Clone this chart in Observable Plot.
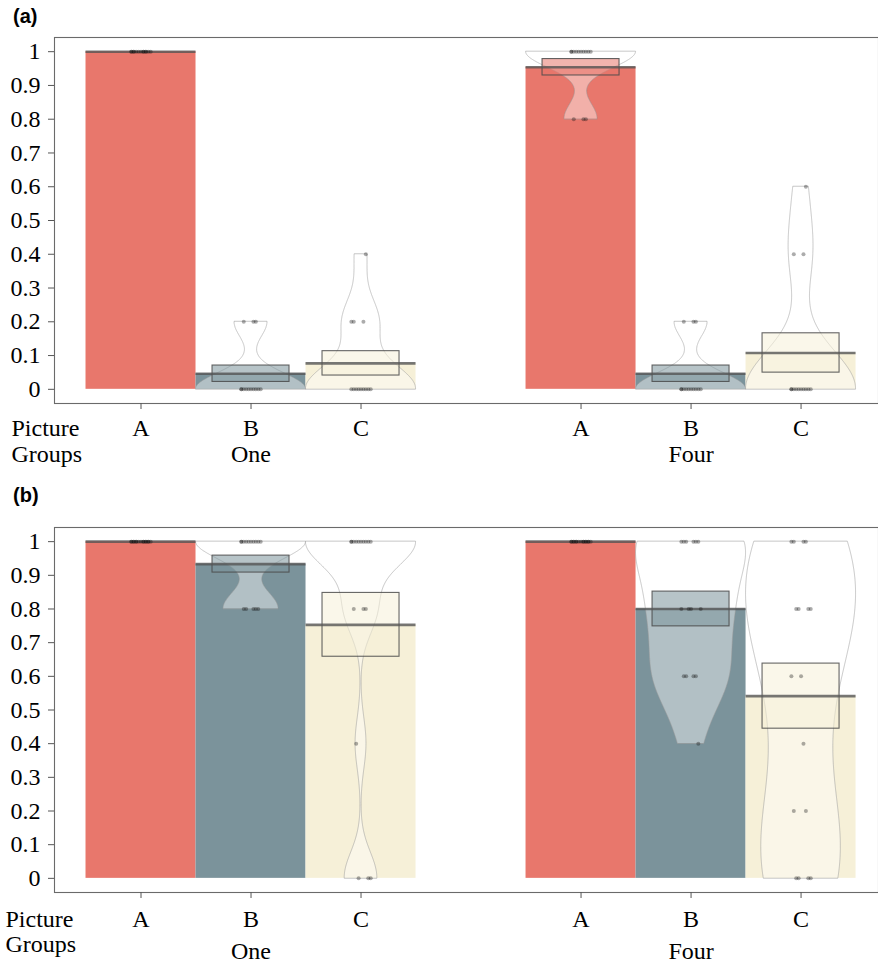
<!DOCTYPE html>
<html>
<head>
<meta charset="utf-8">
<script src="https://cdn.jsdelivr.net/npm/d3@7"></script>
<script src="https://cdn.jsdelivr.net/npm/@observablehq/plot@0.6"></script>
<style>
  html, body { margin: 0; padding: 0; background: #ffffff; }
  #root { width: 878px; }
  .panel { position: relative; width: 878px; }
  .panel svg { display: block; }
  .panel svg, .panel svg text { font-family: "Liberation Serif", "Times New Roman", Times, serif !important; }
  .tag { position: absolute; left: 13px; font: bold 20px "Liberation Sans", Arial, sans-serif; line-height: 20px; color: #000; }
</style>
</head>
<body>
<div id="root"></div>
<script>
// ---------- data ----------
const groups = ["One", "Four"];
const pictures = ["A", "B", "C"];
const pictureColors = ["#e8776c", "#7b939b", "#f6f0d8"];
const yTicks = [0, 0.1, 0.2, 0.3, 0.4, 0.5, 0.6, 0.7, 0.8, 0.9, 1];
const yTickLabels = ["0", "0.1", "0.2", "0.3", "0.4", "0.5", "0.6", "0.7", "0.8", "0.9", "1"];
const axisLeftLabels = ["Picture", "Groups"];

// panel (a): individual scores per picture group / picture
const a_One_A  = [1, 1, 1, 1, 1, 1, 1, 1, 1, 1, 1, 1, 1];
const a_One_B  = [0, 0, 0, 0, 0, 0, 0, 0, 0, 0, 0.2, 0.2, 0.2];
const a_One_C  = [0, 0, 0, 0, 0, 0, 0, 0, 0, 0.2, 0.2, 0.2, 0.4];
const a_Four_A = [1, 1, 1, 1, 1, 1, 1, 1, 1, 1, 0.8, 0.8, 0.8];
const a_Four_B = [0, 0, 0, 0, 0, 0, 0, 0, 0, 0, 0.2, 0.2, 0.2];
const a_Four_C = [0, 0, 0, 0, 0, 0, 0, 0, 0, 0, 0.4, 0.4, 0.6];

// panel (b)
const b_One_A  = [1, 1, 1, 1, 1, 1, 1, 1, 1, 1, 1, 1, 1, 1, 1];
const b_One_B  = [1, 1, 1, 1, 1, 1, 1, 1, 1, 1, 0.8, 0.8, 0.8, 0.8, 0.8];
const b_One_C  = [1, 1, 1, 1, 1, 1, 1, 1, 1, 1, 0.8, 0.8, 0.8, 0.4, 0, 0, 0];
const b_Four_A = [1, 1, 1, 1, 1, 1, 1, 1, 1, 1, 1, 1, 1, 1, 1];
const b_Four_B = [1, 1, 1, 1, 1, 1, 0.8, 0.8, 0.8, 0.8, 0.6, 0.6, 0.6, 0.6, 0.4];
const b_Four_C = [1, 1, 1, 1, 0.8, 0.8, 0.8, 0.8, 0.6, 0.6, 0.4, 0.2, 0.2, 0, 0, 0, 0];

const panels = [
  { tag: "(a)", scores: [[a_One_A, a_One_B, a_One_C], [a_Four_A, a_Four_B, a_Four_C]] },
  { tag: "(b)", scores: [[b_One_A, b_One_B, b_One_C], [b_Four_A, b_Four_B, b_Four_C]] }
];

// ---------- helpers ----------
const slot = (gi, pi) => gi * 4 + pi + 1;

function violinProfile(values) {
  const n = values.length;
  const sd = d3.deviation(values);
  if (!sd) return [];
  const iqr = d3.quantile(values, 0.75) - d3.quantile(values, 0.25);
  let lo = Math.min(sd, iqr / 1.34);
  if (!lo) lo = sd;
  const bw = 0.9 * lo * Math.pow(n, -0.2);
  const [mn, mx] = d3.extent(values);
  const ys = d3.range(512).map(i => mn + (mx - mn) * i / 511);
  const dens = ys.map(y => d3.sum(values, v => Math.exp(-0.5 * ((y - v) / bw) ** 2)));
  const m = d3.max(dens);
  return ys.map((y, i) => ({ y, hw: 0.5 * dens[i] / m }));
}

function buildPanel(scores) {
  const cells = [], violins = [], dots = [];
  groups.forEach((g, gi) => pictures.forEach((p, pi) => {
    const values = scores[gi][pi];
    const pos = slot(gi, pi);
    const mean = d3.mean(values);
    const se = d3.deviation(values) / Math.sqrt(values.length);
    const key = g + p;
    cells.push({ key, pos, mean, lo: mean - se, hi: mean + se, color: pictureColors[pi] });
    violinProfile(values).forEach(d => violins.push({ key, y: d.y, x1: pos - d.hw, x2: pos + d.hw }));
    values.forEach((v, i) => dots.push({ x: pos + (((i * 5) % 9) - 4) * 0.022, y: v }));
  }));
  return { cells, violins, dots };
}

const serif = '"Liberation Serif", "Times New Roman", Times, serif';
const root = document.getElementById("root");

const layouts = [
  { height: 480, marginTop: 37, marginBottom: 77, tagTop: 6, letterPad: 9, groupPad: 41, leftDx: -43, pictureDy: 15, groupsDy: 41 },
  { height: 485, marginTop: 47, marginBottom: 73, tagTop: 5, letterPad: 11.5, groupPad: 49, leftDx: -49, pictureDy: 17, groupsDy: 42 }
];

panels.forEach((panel, k) => {
  const L = layouts[k];
  const { cells, violins, dots } = buildPanel(panel.scores);
  const letterTicks = [], letterLabels = new Map();
  groups.forEach((g, gi) => pictures.forEach((p, pi) => { letterTicks.push(slot(gi, pi)); letterLabels.set(slot(gi, pi), p); }));
  const groupTicks = groups.map((g, gi) => slot(gi, 1));
  const groupLabels = new Map(groups.map((g, gi) => [slot(gi, 1), g]));
  const yLabel = new Map(yTicks.map((t, i) => [t, yTickLabels[i]]));

  const chart = Plot.plot({
    width: 878,
    height: L.height,
    marginTop: L.marginTop,
    marginBottom: L.marginBottom,
    marginLeft: 54,
    marginRight: 0,
    x: { type: "linear", domain: [0.2136, 7.704] },
    y: { domain: [-0.042, 1.042] },
    style: { fontFamily: serif, fontSize: "24px", background: "#ffffff", color: "#000", overflow: "visible" },
    marks: [
      Plot.frame({ stroke: "#6a6a6a", strokeWidth: 1.1 }),
      Plot.axisY({ ticks: yTicks, tickFormat: d => yLabel.get(d), tickSize: 6, tickPadding: 8, stroke: "#555", fill: "#000", fontSize: 24, fontFamily: serif, label: null }),
      Plot.axisX({ ticks: letterTicks, tickFormat: d => letterLabels.get(d), tickSize: 6, tickPadding: L.letterPad, stroke: "#555", fill: "#000", fontSize: 24, fontFamily: serif, label: null }),
      Plot.axisX({ ticks: groupTicks, tickFormat: d => groupLabels.get(d), tickSize: 0, tickPadding: L.groupPad, fill: "#000", fontSize: 24, fontFamily: serif, label: null }),
      Plot.text([axisLeftLabels[0]], { text: d => d, frameAnchor: "bottom-left", dx: L.leftDx, dy: L.pictureDy, textAnchor: "start", lineAnchor: "top", fontSize: 24, fontFamily: serif, fill: "#000" }),
      Plot.text([axisLeftLabels[1]], { text: d => d, frameAnchor: "bottom-left", dx: L.leftDx, dy: L.groupsDy, textAnchor: "start", lineAnchor: "top", fontSize: 24, fontFamily: serif, fill: "#000" }),
      // bars
      Plot.rectY(cells, { x1: d => d.pos - 0.5, x2: d => d.pos + 0.5, y1: 0, y2: "mean", fill: "color" }),
      // violins
      Plot.areaX(violins, { y: "y", x1: "x1", x2: "x2", z: "key", fill: "#ffffff", fillOpacity: 0.42, stroke: "#9a9a9a", strokeWidth: 0.7, strokeOpacity: 0.8 }),
      // mean +/- SE boxes
      Plot.rect(cells, { x1: d => d.pos - 0.35, x2: d => d.pos + 0.35, y1: "lo", y2: "hi", fill: "color", fillOpacity: 0.55, stroke: "#4a4a4a", strokeWidth: 1.1, strokeOpacity: 0.85 }),
      // mean lines
      Plot.ruleY(cells, { y: "mean", x1: d => d.pos - 0.5, x2: d => d.pos + 0.5, stroke: "#555", strokeWidth: 2.6, strokeOpacity: 0.8 }),
      // individual points
      Plot.dot(dots, { x: "x", y: "y", r: 2, fill: "#111", fillOpacity: 0.35, stroke: "none" })
    ]
  });

  const wrap = document.createElement("div");
  wrap.className = "panel";
  wrap.appendChild(chart);
  const tag = document.createElement("div");
  tag.className = "tag";
  tag.style.top = L.tagTop + "px";
  tag.textContent = panel.tag;
  wrap.appendChild(tag);
  root.appendChild(wrap);
});
</script>
</body>
</html>
